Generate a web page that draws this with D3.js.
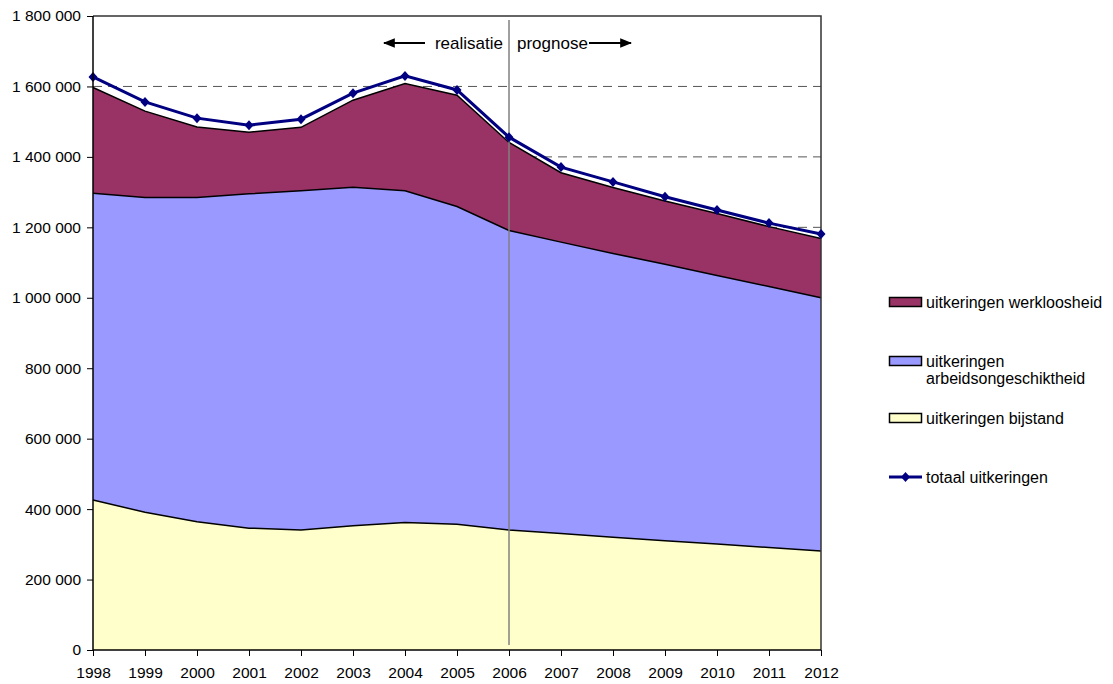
<!DOCTYPE html>
<html>
<head>
<meta charset="utf-8">
<script src="https://cdn.jsdelivr.net/npm/d3@7"></script>
<style>
  body { margin: 0; background: #fff; }
  text { font-family: "Liberation Sans", Arial, sans-serif; fill: #000; }
</style>
</head>
<body>
<div id="chart"></div>
<script>
// years and series
var years = [1998, 1999, 2000, 2001, 2002, 2003, 2004, 2005, 2006, 2007, 2008, 2009, 2010, 2011, 2012];
var bijstand = [426000, 391000, 364000, 346000, 341000, 353000, 362000, 357000, 341000, 331000, 320000, 310000, 301000, 291000, 281000];
var arbeidsongeschiktheid = [871000, 894000, 921000, 949000, 963000, 961000, 942000, 902000, 850000, 827000, 806000, 785000, 762000, 741000, 719000];
var werkloosheid = [300000, 245000, 200000, 175000, 180000, 247000, 304000, 316000, 250000, 197000, 187000, 180000, 176000, 170000, 168000];
var totaal = [1627000, 1556000, 1510000, 1490000, 1507000, 1581000, 1630000, 1590000, 1456000, 1371000, 1329000, 1287000, 1249000, 1212000, 1181000];
var yTicks = [0, 200000, 400000, 600000, 800000, 1000000, 1200000, 1400000, 1600000, 1800000];
var splitYear = 2006;

var W = 1113, H = 684;
// plot box (note: "top" is reserved by window, so prefixed names)
var pLeft = 93, pRight = 821, pTop = 16, pBottom = 650;

var svg = d3.select("#chart").append("svg")
    .attr("width", W)
    .attr("height", H);

var x = d3.scalePoint().domain(years).range([pLeft, pRight]);
var y = d3.scaleLinear().domain([0, 1800000]).range([pBottom, pTop]);

var nl = d3.formatLocale({ decimal: ",", thousands: " ", grouping: [3], currency: ["", ""] });
var fmt = nl.format(",d");

// dashed gridlines, behind the areas
svg.append("g")
    .selectAll("line")
    .data(yTicks.filter(function(d) { return d > 0 && d < 1800000; }))
    .enter().append("line")
    .attr("x1", pLeft).attr("x2", pRight)
    .attr("y1", function(d) { return y(d); })
    .attr("y2", function(d) { return y(d); })
    .attr("stroke", "#555")
    .attr("stroke-width", 1)
    .attr("stroke-dasharray", "9,6");

// stacked areas
var rows = years.map(function(yr, i) {
    return { year: yr, bijstand: bijstand[i], ao: arbeidsongeschiktheid[i], ww: werkloosheid[i] };
});
var stack = d3.stack().keys(["bijstand", "ao", "ww"]);
var layers = stack(rows);
var colors = { bijstand: "#FFFFCC", ao: "#9999FF", ww: "#993366" };

var area = d3.area()
    .x(function(d) { return x(d.data.year); })
    .y0(function(d) { return y(d[0]); })
    .y1(function(d) { return y(d[1]); });
var topLine = d3.line()
    .x(function(d) { return x(d.data.year); })
    .y(function(d) { return y(d[1]); });

svg.append("g").selectAll("path")
    .data(layers)
    .enter().append("path")
    .attr("d", area)
    .attr("fill", function(d) { return colors[d.key]; })
    .attr("stroke", "none");

svg.append("g").selectAll("path")
    .data(layers)
    .enter().append("path")
    .attr("d", topLine)
    .attr("fill", "none")
    .attr("stroke", "#000")
    .attr("stroke-width", 1.5);

// plot border (top and right)
svg.append("path")
    .attr("d", "M" + pLeft + "," + pTop + "H" + pRight + "V" + pBottom)
    .attr("fill", "none")
    .attr("stroke", "#333")
    .attr("stroke-width", 1.5);

// vertical split line at 2006
svg.append("line")
    .attr("x1", x(splitYear)).attr("x2", x(splitYear))
    .attr("y1", 20).attr("y2", pBottom - 5)
    .attr("stroke", "#808080")
    .attr("stroke-width", 1.5);

// totaal line with diamond markers
var line = d3.line()
    .x(function(d, i) { return x(years[i]); })
    .y(function(d) { return y(d); });
svg.append("path")
    .datum(totaal)
    .attr("d", line)
    .attr("fill", "none")
    .attr("stroke", "#000080")
    .attr("stroke-width", 3);
svg.append("g").selectAll("path")
    .data(totaal)
    .enter().append("path")
    .attr("transform", function(d, i) { return "translate(" + x(years[i]) + "," + y(d) + ")"; })
    .attr("d", "M0,-5L4.5,0L0,5L-4.5,0Z")
    .attr("fill", "#000080");

// axes
var yAxis = d3.axisLeft(y).tickValues(yTicks).tickFormat(fmt).tickSize(6).tickPadding(6);
var gy = svg.append("g").attr("transform", "translate(" + pLeft + ",0)").call(yAxis);
var xAxis = d3.axisBottom(x).tickSize(6).tickPadding(11);
var gx = svg.append("g").attr("transform", "translate(0," + pBottom + ")").call(xAxis);
[gy, gx].forEach(function(g) {
    g.select(".domain").attr("stroke", "#000").attr("stroke-width", 1.5);
    g.selectAll(".tick line").attr("stroke", "#000").attr("stroke-width", 1);
    g.selectAll("text").attr("font-size", "15.5px").attr("font-family", "Liberation Sans, Arial, sans-serif").attr("fill", "#000");
});
gy.select(".domain").attr("d", "M0," + pBottom + "V" + pTop);
gx.select(".domain").attr("d", "M" + pLeft + ",0H" + pRight);

// realisatie / prognose annotation
var defs = svg.append("defs");
defs.append("marker")
    .attr("id", "arrow")
    .attr("viewBox", "0 0 10 10")
    .attr("refX", 9).attr("refY", 5)
    .attr("markerWidth", 6).attr("markerHeight", 6)
    .attr("orient", "auto-start-reverse")
    .append("path").attr("d", "M0,1L10,5L0,9Z").attr("fill", "#000");

var xs = x(splitYear);
svg.append("line")
    .attr("x1", xs - 84).attr("x2", xs - 125)
    .attr("y1", 43).attr("y2", 43)
    .attr("stroke", "#000").attr("stroke-width", 2)
    .attr("marker-end", "url(#arrow)");
svg.append("text")
    .attr("x", xs - 6).attr("y", 49)
    .attr("text-anchor", "end")
    .attr("font-size", "17px")
    .text("realisatie");
svg.append("text")
    .attr("x", xs + 8).attr("y", 49)
    .attr("font-size", "17px")
    .text("prognose");
svg.append("line")
    .attr("x1", xs + 80).attr("x2", xs + 122)
    .attr("y1", 43).attr("y2", 43)
    .attr("stroke", "#000").attr("stroke-width", 2)
    .attr("marker-end", "url(#arrow)");

// legend
var legend = svg.append("g").attr("transform", "translate(889,0)");
var legendItems = [
    { label: ["uitkeringen werkloosheid"], color: colors.ww, y: 302 },
    { label: ["uitkeringen", "arbeidsongeschiktheid"], color: colors.ao, y: 361 },
    { label: ["uitkeringen bijstand"], color: colors.bijstand, y: 418 }
];
legendItems.forEach(function(it) {
    legend.append("rect")
        .attr("x", 0.5).attr("y", it.y - 4.5)
        .attr("width", 32).attr("height", 9)
        .attr("fill", it.color)
        .attr("stroke", "#000").attr("stroke-width", 1.5);
    it.label.forEach(function(t, j) {
        legend.append("text")
            .attr("x", 37).attr("y", it.y + 5.5 + j * 17)
            .attr("font-size", "16px")
            .text(t);
    });
});
legend.append("line")
    .attr("x1", 0).attr("x2", 33)
    .attr("y1", 477).attr("y2", 477)
    .attr("stroke", "#000080").attr("stroke-width", 3);
legend.append("path")
    .attr("transform", "translate(16.5,477)")
    .attr("d", "M0,-5L4.5,0L0,5L-4.5,0Z")
    .attr("fill", "#000080");
legend.append("text")
    .attr("x", 37).attr("y", 482.5)
    .attr("font-size", "16px")
    .text("totaal uitkeringen");
</script>
</body>
</html>
